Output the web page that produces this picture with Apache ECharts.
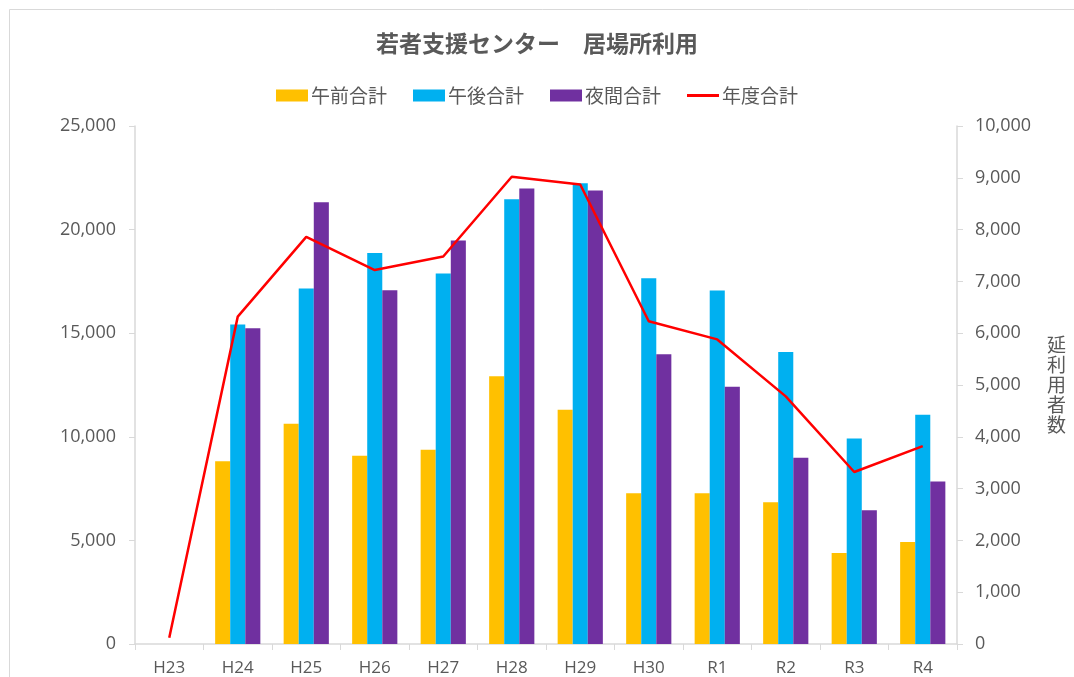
<!DOCTYPE html>
<html><head><meta charset="utf-8">
<script src="https://cdn.jsdelivr.net/npm/echarts@6/dist/echarts.min.js"></script>
<style>html,body{margin:0;padding:0;background:#fff}#c{width:1074px;height:677px}</style>
</head><body><div id="c"></div>
<script>
const categories = ['H23','H24','H25','H26','H27','H28','H29','H30','R1','R2','R3','R4'];
const morning = [0, 8820, 10630, 9080, 9370, 12920, 11300, 7270, 7280, 6840, 4390, 4920];
const afternoon = [0, 15420, 17160, 18870, 17880, 21470, 22240, 17650, 17060, 14090, 9920, 11070];
const night = [0, 15240, 21320, 17070, 19470, 21980, 21890, 13980, 12410, 8990, 6460, 7840];
const yearTotal = [120, 6320, 7860, 7220, 7480, 9020, 8870, 6230, 5880, 4780, 3320, 3820];
const seriesNames = ['午前合計','午後合計','夜間合計','年度合計'];
const titleText = '若者支援センター　居場所利用';
const rightAxisName = '延利用者数';

const txt = '#595959';
const axisGray = '#d9d9d9';
const fontNum = '"Open Sans", "Noto Sans", sans-serif';
const fontJP = '"Noto Sans CJK JP", sans-serif';

const chart = echarts.init(document.getElementById('c'), null, {renderer:'canvas'});
chart.setOption({
  animation: false,
  backgroundColor: '#fff',
  graphic: [{
    type: 'rect', shape: {x: 9.5, y: 9.5, width: 1100, height: 700},
    style: {fill: 'none', stroke: '#d9d9d9', lineWidth: 1}, z: -1
  }],
  title: {
    text: titleText, left: 'center', top: 27,
    textStyle: {fontFamily: fontJP, fontSize: 23, fontWeight: 'bold', color: txt}
  },
  legend: {
    top: 81, left: 'center', itemGap: 26, itemWidth: 32, itemHeight: 12,
    textStyle: {fontFamily: fontJP, fontSize: 19, color: txt, padding: [0,0,0,-2]},
    data: [
      {name: seriesNames[0], icon: 'rect'},
      {name: seriesNames[1], icon: 'rect'},
      {name: seriesNames[2], icon: 'rect'},
      {name: seriesNames[3], icon: 'path://M0,0 L32,0 L32,3 L0,3 Z', itemStyle: {color: '#ff0000'}}
    ]
  },
  grid: {left: 135, right: 117, top: 126, bottom: 33, containLabel: false},
  xAxis: {
    type: 'category', data: categories, boundaryGap: true,
    axisLine: {lineStyle: {color: axisGray, width: 1.5}},
    axisTick: {show: true, length: 6, lineStyle: {color: axisGray}, alignWithLabel: false},
    axisLabel: {color: txt, fontFamily: fontNum, fontSize: 17, margin: 16}
  },
  yAxis: [{
    type: 'value', min: 0, max: 25000, interval: 5000,
    axisLine: {show: true, lineStyle: {color: axisGray, width: 1.5}},
    axisTick: {show: true, length: 6, lineStyle: {color: axisGray}},
    splitLine: {show: false},
    axisLabel: {color: txt, fontFamily: fontNum, fontSize: 18, margin: 19,
      formatter: v => v.toLocaleString('en-US')}
  }, {
    type: 'value', min: 0, max: 10000, interval: 1000, position: 'right',
    axisLine: {show: true, lineStyle: {color: axisGray, width: 1.5}},
    axisTick: {show: true, length: 6, lineStyle: {color: axisGray}},
    splitLine: {show: false},
    axisLabel: {color: txt, fontFamily: fontNum, fontSize: 18, margin: 18,
      formatter: v => v.toLocaleString('en-US')},
    name: rightAxisName.split('').join('\n'),
    nameLocation: 'middle', nameRotate: 0, nameGap: 90,
    nameTextStyle: {color: txt, fontFamily: fontJP, fontSize: 19, lineHeight: 20}
  }],
  series: [
    {name: seriesNames[0], type: 'bar', data: morning, yAxisIndex: 0,
      itemStyle: {color: '#ffc000'}, barGap: '0%', barCategoryGap: '34%'},
    {name: seriesNames[1], type: 'bar', data: afternoon, yAxisIndex: 0,
      itemStyle: {color: '#00b0f0'}, barGap: '0%', barCategoryGap: '34%'},
    {name: seriesNames[2], type: 'bar', data: night, yAxisIndex: 0,
      itemStyle: {color: '#7030a0'}, barGap: '0%', barCategoryGap: '34%'},
    {name: seriesNames[3], type: 'line', data: yearTotal, yAxisIndex: 1,
      showSymbol: false, symbol: 'none',
      lineStyle: {color: '#ff0000', width: 2.5}, itemStyle: {color: '#ff0000'}, z: 5}
  ]
});
</script></body></html>
